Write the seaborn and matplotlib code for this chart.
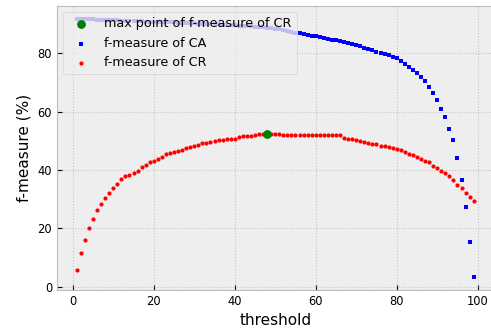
import numpy as np
import matplotlib
matplotlib.use("Agg")
import matplotlib.pyplot as plt
import seaborn as sns

# thresholds 1..99
threshold = list(range(1, 100))

# f-measure of CA (%)
f_ca = [91.8, 91.7, 91.7, 91.6, 91.6, 91.5, 91.5, 91.4, 91.4, 91.3,
        91.3, 91.2, 91.2, 91.1, 91.1, 91.0, 91.0, 90.9, 90.9, 90.8,
        90.8, 90.7, 90.7, 90.6, 90.6, 90.5, 90.5, 90.4, 90.4, 90.3,
        90.2, 90.2, 90.1, 90.0, 90.0, 89.9, 89.8, 89.8, 89.7, 89.6,
        89.5, 89.4, 89.3, 89.2, 89.1, 89.0, 88.9, 88.8, 88.7, 88.5,
        88.3, 88.0, 87.7, 87.4, 87.1, 86.8, 86.5, 86.3, 86.1, 85.9,
        85.6, 85.3, 85.0, 84.7, 84.5, 84.2, 83.9, 83.6, 83.2, 82.8,
        82.4, 81.9, 81.5, 81.1, 80.6, 80.2, 79.8, 79.3, 78.9, 78.5,
        77.5, 76.4, 75.2, 74.2, 73.2, 71.9, 70.4, 68.6, 66.4, 64.0,
        61.0, 58.2, 54.2, 50.3, 44.0, 36.5, 27.3, 15.2, 3.3]

# f-measure of CR (%)
f_cr = [5.9, 11.7, 16.1, 20.1, 23.2, 26.3, 28.5, 30.3, 32.1, 33.8,
        35.2, 37.0, 37.8, 38.3, 39.1, 39.6, 40.9, 41.8, 42.6, 43.1,
        43.7, 44.4, 45.4, 45.9, 46.2, 46.4, 47.0, 47.6, 48.0, 48.1,
        48.7, 49.3, 49.4, 49.7, 49.9, 50.2, 50.3, 50.5, 50.6, 50.8,
        51.3, 51.6, 51.7, 51.7, 52.0, 52.2, 52.3, 52.5, 52.4, 52.4,
        52.3, 52.1, 52.0, 52.0, 52.0, 52.0, 52.0, 52.0, 52.0, 52.0,
        52.0, 52.0, 52.0, 52.0, 52.0, 52.0, 51.1, 50.8, 50.6, 50.4,
        50.0, 49.6, 49.3, 49.0, 48.9, 48.4, 48.1, 47.8, 47.7, 47.2,
        46.7, 46.2, 45.6, 45.0, 44.4, 43.7, 43.2, 42.7, 41.5, 40.7,
        39.7, 39.1, 37.9, 36.5, 35.0, 33.8, 32.2, 30.6, 29.3]

i_max = int(np.argmax(f_cr))
max_x = [threshold[i_max]]
max_y = [f_cr[i_max]]

plt.style.use("bmh")
fig = plt.figure(figsize=(4.91, 3.34), dpi=100)
ax = fig.add_axes([57 / 491, 44 / 334, 436.5 / 491, 284 / 334])
ax.grid(True, color="#c4c4c4", linestyle=":", linewidth=0.8)

sns.scatterplot(x=threshold, y=f_ca, ax=ax, color="blue", marker="s",
                s=11, linewidth=0, label="f-measure of CA", zorder=3)
sns.scatterplot(x=threshold, y=f_cr, ax=ax, color="red", marker="o",
                s=9, linewidth=0, label="f-measure of CR", zorder=3)
sns.scatterplot(x=max_x, y=max_y, ax=ax, color="green", marker="o",
                s=40, linewidth=0, label="max point of f-measure of CR", zorder=4)

handles, labels = ax.get_legend_handles_labels()
order = [2, 0, 1]
ax.legend([handles[i] for i in order], [labels[i] for i in order],
          loc="upper left", fontsize=9.2, framealpha=0.8)

ax.set_xlabel("threshold", fontsize=11)
ax.set_ylabel("f-measure (%)", fontsize=11)
ax.tick_params(labelsize=8.3)
ax.set_xticks([0, 20, 40, 60, 80, 100])
ax.set_yticks([0, 20, 40, 60, 80])

fig.savefig("out.png", dpi=100)
